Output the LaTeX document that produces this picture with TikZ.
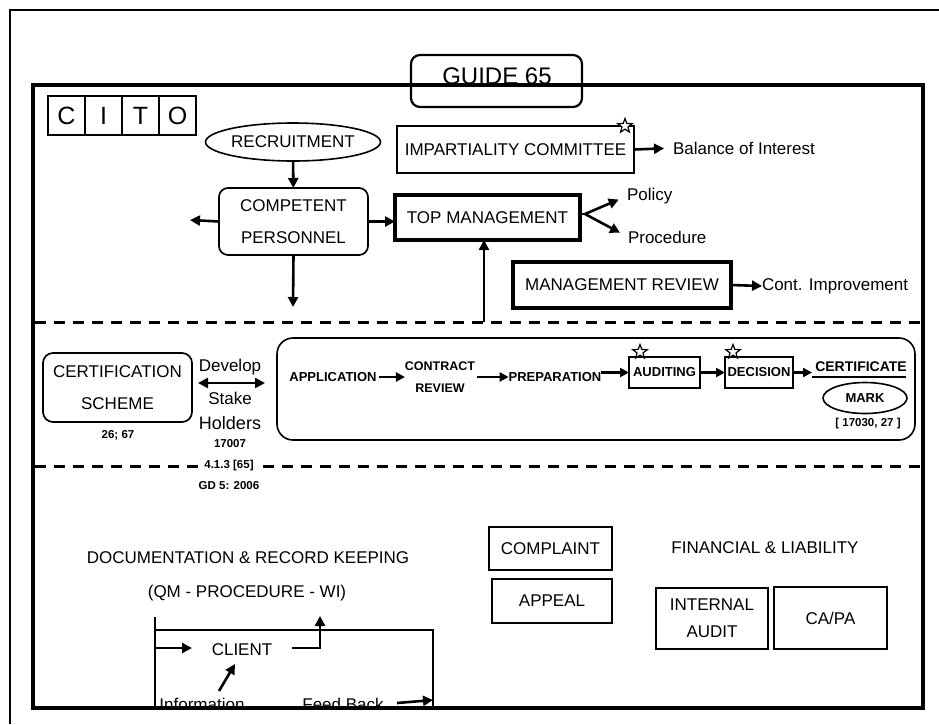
\documentclass[tikz,border=0pt]{standalone}
\usepackage{fontspec}
\setmainfont{Liberation Sans}
\usetikzlibrary{arrows.meta,shapes.geometric}
\begin{document}
\begin{tikzpicture}[x=1pt,y=-1pt,
 every node/.style={inner sep=0pt,outer sep=0pt},
 arr/.style={line width=2.6pt,-{Triangle[length=10pt,width=10pt]}},
 sarr/.style={line width=2.4pt,-{Triangle[length=9pt,width=9pt]}},
 fl/.style={font=\fontsize{17}{20}\selectfont},
 fb/.style={font=\bfseries\fontsize{13}{15}\selectfont},
 fs/.style={font=\bfseries\fontsize{11.5}{13}\selectfont},
 thinbox/.style={draw,line width=1.6pt},
 thickbox/.style={draw,line width=3.2pt},
 roundbox/.style={draw,line width=1.7pt,rounded corners=9pt},
 dline/.style={line width=3pt,dash pattern=on 11pt off 8pt},
 starmark/.style={star,star points=5,star point ratio=2.4,draw,line width=1.2pt,fill=white,minimum size=15pt}
]
\useasboundingbox (0,0) rectangle (939,724);

% clipped bottom texts
\begin{scope}
\clip (34,600) rectangle (922,707);
\node[fl,anchor=base] (info) at (202,710) {Information};
\node[fl,anchor=base] (feed) at (343,710) {Feed Back};
\end{scope}

% outer lines
\draw[line width=1.5pt] (10,724) -- (10,10) -- (939,10);
% inner frame
\draw[line width=3.8pt] (33,85) rectangle (923,708);

% GUIDE 65
\node[draw,line width=2.2pt,rounded corners=9pt,minimum width=171pt,minimum height=52pt] (guide) at (496.5,81) {};
\node[font=\fontsize{24}{26}\selectfont] (guidetxt) at (497,76) {GUIDE 65};

% CITO
\foreach \l/\x/\n in {C/66.5/c1,I/103.5/c2,T/140.5/c3,O/177.5/c4}
  \node[draw,line width=2.2pt,minimum width=37pt,minimum height=39pt,font=\fontsize{25}{27}\selectfont] (\n) at (\x,115.5) {\l};

% top section
\node[ellipse,draw,line width=1.6pt,minimum width=164pt,minimum height=38pt,fl] (rec) at (293,142) {RECRUITMENT};
\node[roundbox,minimum width=149pt,minimum height=67pt,align=center,font=\fontsize{17}{32}\selectfont] (comp) at (293.5,221.5) {COMPETENT\\PERSONNEL};
\node[draw,line width=1.3pt,minimum width=237pt,minimum height=47pt,fl] (imp) at (515.5,149.5) {IMPARTIALITY COMMITTEE};
\node[starmark] (star1) at (625,126) {};
\node[fl,anchor=west] (bal) at (673,148) {Balance of Interest};
\node[thickbox,minimum width=185pt,minimum height=45pt,fl] (top) at (487.5,217.5) {TOP MANAGEMENT};
\node[fl,anchor=west] (pol) at (627,196) {Policy};
\node[fl,anchor=west] (proc) at (628,237) {Procedure};
\node[thickbox,minimum width=218pt,minimum height=46pt,fl] (mr) at (622,285) {MANAGEMENT REVIEW};
\node[fl,anchor=west] (cont) at (762,286) {Cont. Improvement};

\coordinate (compleft) at (190,220);
\coordinate (compdown) at (293,307);
\coordinate (fork) at (585,214);
\coordinate (upbase) at (484,322);

\draw[arr] (rec) -- (comp);
\draw[arr] (comp.west) -- (compleft);
\draw[arr] (comp.east) -- (top.west |- comp.east);
\draw[arr] (comp.south) -- (compdown);
\draw[arr,shorten >=9pt] (imp.east) -- (bal.west);
\draw[line width=2.6pt] (top.east |- fork) -- (fork);
\draw[arr,shorten >=9pt] (fork) -- (pol.west);
\draw[arr,shorten >=9pt] (fork) -- (proc.west);
\draw[arr] (mr.east) -- (cont.west);
\draw[arr] (upbase) -- (upbase |- top.south);

% dashed lines
\draw[dline] (35,322) -- (921,322);
\draw[dline] (35,466) -- (921,466);

% middle section
\node[roundbox,rounded corners=10pt,minimum width=149pt,minimum height=69pt,align=center,font=\fontsize{17}{32}\selectfont] (cert) at (117.5,387.5) {CERTIFICATION\\SCHEME};
\node[fs] (c2667) at (118,435) {26; 67};
\node[fl] (dev) at (230,367) {Develop};
\node[fl] (stake) at (230,398) {Stake};
\node[fl,font=\fontsize{18}{20}\selectfont] (hold) at (230,423) {Holders};
\node[fs] (n17007) at (230,444) {17007};
\coordinate (dl) at (198,383);
\coordinate (dr) at (265,383);
\draw[line width=2.6pt,{Triangle[length=10pt,width=10pt]}-{Triangle[length=10pt,width=10pt]}] (dl) -- (dr);
\node[fs,fill=white,inner xsep=4pt,inner ysep=2pt] (n413) at (229,466) {4.1.3 [65]};
\node[fs] (gd5) at (229,486) {GD 5: 2006};

\node[draw,line width=1.6pt,rounded corners=16pt,minimum width=638pt,minimum height=102pt] (procbox) at (596,389) {};
\node[fb] (app) at (333,377) {APPLICATION};
\node[fb,align=center,font=\bfseries\fontsize{12.5}{22}\selectfont] (cr) at (440,377) {CONTRACT\\REVIEW};
\node[fb] (prep) at (555,377) {PREPARATION};
\node[draw,line width=2.8pt,minimum width=71pt,minimum height=31pt,fb] (aud) at (664.5,372.5) {AUDITING};
\node[draw,line width=2.8pt,minimum width=68pt,minimum height=31pt,fb] (dec) at (759,372.5) {DECISION};
\node[starmark] (star2) at (640,352) {};
\node[starmark] (star3) at (733,352) {};
\node[fb,font=\bfseries\fontsize{14}{16}\selectfont] (certf) at (861,367) {CERTIFICATE};
\coordinate (ul1) at (812,377);
\coordinate (ul2) at (906,377);
\draw[line width=2.2pt] (ul1) -- (ul2);
\node[ellipse,draw,line width=1.6pt,minimum width=84pt,minimum height=31pt,fb] (mark) at (865,398) {MARK};
\node[fs] (m17030) at (868,424) {[ 17030, 27 ]};

\draw[sarr] (app.east) ++(2,0) coordinate (a1) (a1) -- (cr.west |- a1);
\draw[sarr] (cr.east |- app.east) ++(2,0) coordinate (a2) (a2) -- (prep.west |- a2);
\draw[sarr] (prep.east |- aud.west) -- (aud.west);
\draw[sarr] (aud.east) -- (dec.west);
\draw[sarr] (dec.east) -- (ul1 |- dec.east);

% bottom section
\node[fl] (doc) at (248,558) {DOCUMENTATION \& RECORD KEEPING};
\node[fl] (qm) at (247,593) {(QM - PROCEDURE - WI)};
\node[thinbox,minimum width=123pt,minimum height=43pt,fl] (compl) at (550.5,548.5) {COMPLAINT};
\node[thinbox,minimum width=120pt,minimum height=44pt,fl] (appeal) at (552,601) {APPEAL};
\node[fl] (fin) at (765,548) {FINANCIAL \& LIABILITY};
\node[thinbox,minimum width=112pt,minimum height=61pt,align=center,font=\fontsize{17}{27}\selectfont] (ia) at (712,618.5) {INTERNAL\\AUDIT};
\node[thinbox,minimum width=113pt,minimum height=62pt,fl] (capa) at (830.5,618) {CA/PA};

% client
\coordinate (bl) at (155,708);
\coordinate (tl) at (155,630);
\coordinate (tr) at (433,630);
\coordinate (br) at (433,708);
\draw[line width=1.2pt] (bl) -- (tl) -- (tr) -- (br);
\node[fl] (client) at (242,650) {CLIENT};
\coordinate (cin) at (155,617);
\draw[arr] (cin) |- (192,648);
\coordinate (cout) at (292,648);
\draw[arr] (cout) -| (320,616);
\coordinate (ia1) at (219,691);
\draw[arr] (ia1) -- (235,664);
\coordinate (fb1) at (397,703);
\draw[arr] (fb1) -- (433,700);
\end{tikzpicture}
\end{document}
